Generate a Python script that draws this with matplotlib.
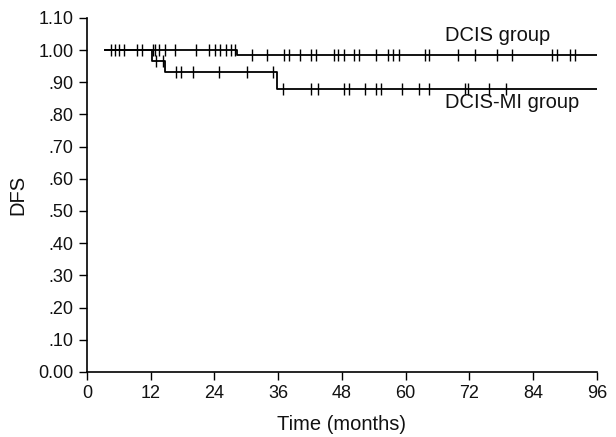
import matplotlib
matplotlib.use("Agg")
import matplotlib.pyplot as plt
import numpy as np

plt.rcParams['font.family'] = ['Liberation Sans', 'DejaVu Sans']

# Kaplan-Meier steps (time in months, DFS after the step)
dcis_start = 3.4
dcis_steps_t = [28.3]
dcis_steps_s = [0.984]
dcis_censor = [4.5, 5.3, 6.1, 7.0, 9.5, 10.3, 12.5, 12.9, 13.6, 14.7, 16.6, 20.6,
               23.0, 24.1, 25.0, 26.2, 27.1, 27.9, 31.0, 33.9, 37.1, 38.0, 40.1,
               42.2, 43.1, 46.5, 47.3, 48.4, 50.3, 51.3, 54.5, 56.7, 57.6, 58.7,
               63.6, 64.4, 69.8, 73.0, 77.2, 80.1, 87.5, 88.4, 90.9, 91.8]

mi_start = 3.4
mi_steps_t = [12.3, 14.8, 35.8]
mi_steps_s = [0.967, 0.933, 0.880]
mi_censor = [13.0, 14.4, 16.8, 17.8, 20.0, 24.9, 30.1, 35.1, 37.0, 42.2, 43.5,
             48.4, 49.3, 52.3, 54.5, 55.3, 59.4, 62.6, 64.4, 71.2, 71.8, 75.7, 78.9]
t_end = 96

yticks = [0.0, 0.1, 0.2, 0.3, 0.4, 0.5, 0.6, 0.7, 0.8, 0.9, 1.0, 1.1]
ytick_labels = ["0.00", ".10", ".20", ".30", ".40", ".50", ".60", ".70", ".80", ".90", "1.00", "1.10"]
xticks = [0, 12, 24, 36, 48, 60, 72, 84, 96]


def km_curve(start, steps_t, steps_s, end):
    t = [start] + steps_t + [end]
    s = [1.0] + steps_s + [steps_s[-1]]
    return t, s


def surv_at(times, steps_t, steps_s):
    out = []
    for x in times:
        v = 1.0
        for st, ss in zip(steps_t, steps_s):
            if x >= st:
                v = ss
        out.append(v)
    return out


fig = plt.figure(figsize=(6.16, 4.37), dpi=100)
ax = fig.add_axes([0.141, 0.149, 0.828, 0.810])

for start, st, ss, cens in [(dcis_start, dcis_steps_t, dcis_steps_s, dcis_censor),
                            (mi_start, mi_steps_t, mi_steps_s, mi_censor)]:
    t, s = km_curve(start, st, ss, t_end)
    ax.step(t, s, where='post', color='black', lw=1.3)
    ax.plot(cens, surv_at(cens, st, ss), ls='none', marker='|', ms=8, mew=1.0, color='black')

ax.text(67.4, 1.016, "DCIS group", fontsize=14.5, ha='left', va='bottom', color='#111111')
ax.text(67.4, 0.866, "DCIS-MI group", fontsize=14.5, ha='left', va='top', color='#111111')

ax.set_xlim(0, 96)
ax.set_ylim(0, 1.1)
ax.set_xticks(xticks)
ax.set_yticks(yticks)
ax.set_yticklabels(ytick_labels)
ax.tick_params(length=6, width=1.0, direction='out', colors='black',
               labelsize=13, labelcolor='#111111')
ax.spines['top'].set_visible(False)
ax.spines['right'].set_visible(False)
ax.spines['left'].set_linewidth(1.2)
ax.spines['bottom'].set_linewidth(1.2)
ax.set_xlabel("Time (months)", fontsize=14.5, labelpad=9, color='#111111')
ax.set_ylabel("DFS", fontsize=14.5, labelpad=8, color='#111111')

fig.savefig("out.png", dpi=100)
